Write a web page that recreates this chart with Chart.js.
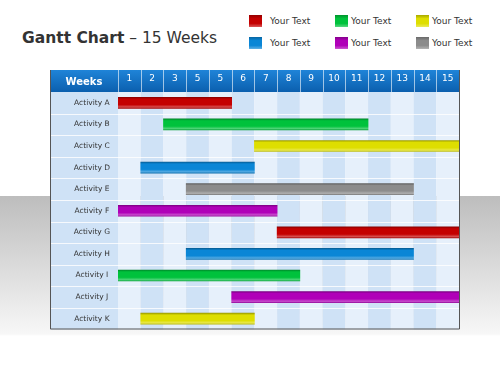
<!DOCTYPE html>
<html>
<head>
<meta charset="utf-8">
<script src="https://cdn.jsdelivr.net/npm/chart.js@4"></script>
<style>
  html, body { margin: 0; padding: 0; }
  body {
    width: 500px; height: 375px; position: relative; overflow: hidden;
    font-family: "DejaVu Sans", sans-serif; color: #333;
    background: linear-gradient(to bottom, #fff 0px, #fff 196px, #bdbdbd 196px, #f7f7f7 334px, #fff 336px);
  }
  #title { position: absolute; left: 22px; top: 29px; font-size: 15.5px; white-space: nowrap; color: #333; }
  #title b { font-weight: bold; }
  #legend { position: absolute; left: 249px; top: 15px; width: 250px; height: 40px; }
  .item { position: absolute; font-size: 9px; white-space: nowrap; color: #333; }
  .sw { position: absolute; left: 0; top: 0; width: 13px; height: 12px; }
  .item span { position: absolute; top: 0px; line-height: 12px; }
  #wrap { position: absolute; left: 50px; top: 70px; width: 410px; height: 264px; }
</style>
</head>
<body>
<div id="title"><b>Gantt Chart</b> – 15 Weeks</div>
<div id="legend"></div>
<div id="wrap"><canvas id="gantt"></canvas></div>
<script>
const weekLabels = ['1', '2', '3', '5', '5', '6', '7', '8', '9', '10', '11', '12', '13', '14', '15'];
const activities = ['Activity A', 'Activity B', 'Activity C', 'Activity D', 'Activity E', 'Activity F',
    'Activity G', 'Activity H', 'Activity I', 'Activity J', 'Activity K'];
const startWeek = [0, 2, 6, 1, 3, 0, 7, 3, 0, 5, 1];
const endWeek = [5, 11, 15, 6, 13, 7, 15, 13, 8, 15, 6];
const barColors = ['#c40000', '#00c23c', '#dede00', '#0a86d6', '#8c8c8c', '#b000b8',
    '#c40000', '#0a86d6', '#00c23c', '#b000b8', '#dede00'];
const legendLabels = ['Your Text', 'Your Text', 'Your Text', 'Your Text', 'Your Text', 'Your Text'];
const legendColors = ['#c40000', '#00c23c', '#dede00', '#0a86d6', '#b000b8', '#8c8c8c'];

function shade(hex, amt) {
    const n = parseInt(hex.slice(1), 16);
    let r = (n >> 16) & 255, g = (n >> 8) & 255, b = n & 255;
    const f = c => Math.max(0, Math.min(255, Math.round(amt < 0 ? c * (1 + amt) : c + (255 - c) * amt)));
    return `rgb(${f(r)},${f(g)},${f(b)})`;
}

// legend, 3 columns x 2 rows
const legendX = [0, 86, 167];
const legendGap = [21, 16, 16];
const legend = document.getElementById('legend');
legendLabels.forEach((txt, i) => {
    const item = document.createElement('div');
    item.className = 'item';
    item.style.left = legendX[i % 3] + 'px';
    item.style.top = (i < 3 ? 0 : 22) + 'px';
    const c = legendColors[i];
    item.innerHTML = `<div class="sw" style="background:linear-gradient(${shade(c, -0.25)}, ${c} 30%, ${c} 70%, ${shade(c, 0.35)})"></div><span style="left:${legendGap[i % 3]}px">${txt}</span>`;
    legend.appendChild(item);
});

const tablePlugin = {
    id: 'tableBg',
    beforeDraw(chart) {
        const { ctx, chartArea: a, scales } = chart;
        const xs = scales.x, ys = scales.y;
        const left = 0, right = chart.width - 1;
        ctx.save();
        // weeks column
        ctx.fillStyle = '#cfe2f6';
        ctx.fillRect(left, a.top, a.left - left, a.bottom - a.top);
        // week columns
        for (let i = 0; i < weekLabels.length; i++) {
            const x0 = xs.getPixelForValue(i), x1 = xs.getPixelForValue(i + 1);
            ctx.fillStyle = i % 2 === 0 ? '#e6f0fb' : '#cfe2f6';
            ctx.fillRect(x0, a.top, x1 - x0, a.bottom - a.top);
        }
        // row separators
        ctx.strokeStyle = 'rgba(255,255,255,0.8)';
        ctx.lineWidth = 1;
        for (let r = 1; r < activities.length; r++) {
            const y = Math.round((ys.getPixelForValue(r - 1) + ys.getPixelForValue(r)) / 2) + 0.5;
            ctx.beginPath(); ctx.moveTo(left, y); ctx.lineTo(a.right, y); ctx.stroke();
        }
        // header band
        const g = ctx.createLinearGradient(0, 0, 0, a.top);
        g.addColorStop(0, '#1f84d8');
        g.addColorStop(1, '#0b5fae');
        ctx.fillStyle = g;
        ctx.fillRect(left, 0, right - left + 1, a.top);
        ctx.strokeStyle = 'rgba(255,255,255,0.6)';
        for (let i = 0; i < weekLabels.length; i++) {
            const x = Math.round(xs.getPixelForValue(i)) + 0.5;
            ctx.beginPath(); ctx.moveTo(x, 0); ctx.lineTo(x, a.top); ctx.stroke();
        }
        ctx.fillStyle = '#fff';
        ctx.font = 'bold 10px "DejaVu Sans"';
        ctx.textAlign = 'center';
        ctx.textBaseline = 'middle';
        ctx.fillText('Weeks', a.left / 2, a.top / 2 + 1);
        ctx.restore();
    },
    afterDraw(chart) {
        const { ctx, chartArea: a } = chart;
        ctx.save();
        ctx.strokeStyle = '#555';
        ctx.lineWidth = 1;
        ctx.beginPath();
        ctx.moveTo(0.5, 0);
        ctx.lineTo(0.5, a.bottom - 0.5);
        ctx.lineTo(chart.width - 0.5, a.bottom - 0.5);
        ctx.lineTo(chart.width - 0.5, 0);
        ctx.stroke();
        ctx.restore();
    }
};

new Chart(document.getElementById('gantt'), {
    type: 'bar',
    data: {
        labels: activities,
        datasets: [{
            data: activities.map((_, i) => [startWeek[i], endWeek[i]]),
            backgroundColor: ctx => {
                const chart = ctx.chart;
                const c = barColors[ctx.dataIndex];
                if (!chart.chartArea || !chart.scales.y) return c;
                const y = chart.scales.y.getPixelForValue(ctx.dataIndex);
                const g = chart.ctx.createLinearGradient(0, y - 6, 0, y + 6);
                g.addColorStop(0, shade(c, -0.35));
                g.addColorStop(0.2, c);
                g.addColorStop(0.65, c);
                g.addColorStop(0.85, shade(c, 0.3));
                g.addColorStop(1, shade(c, -0.2));
                return g;
            },
            borderWidth: 0,
            borderSkipped: false,
            barThickness: 11
        }]
    },
    options: {
        indexAxis: 'y',
        responsive: true,
        maintainAspectRatio: false,
        animation: false,
        layout: { padding: { left: 0, right: 1, top: 0, bottom: 1 } },
        plugins: { legend: { display: false }, tooltip: { enabled: false } },
        scales: {
            x: {
                type: 'linear', min: 0, max: weekLabels.length,
                display: false
            },
            x2: {
                type: 'category', labels: weekLabels, position: 'top', offset: true,
                grid: { display: false }, border: { display: false },
                ticks: { color: '#fff', font: { family: 'DejaVu Sans', size: 9 }, padding: 0, maxRotation: 0, autoSkip: false },
                afterFit: s => { s.height = 22; }
            },
            y: {
                grid: { display: false }, border: { display: false },
                ticks: { color: '#333', font: { family: 'DejaVu Sans', size: 7.5 }, crossAlign: 'center', padding: 0 },
                afterFit: s => { s.width = 68; }
            }
        }
    },
    plugins: [tablePlugin]
});
</script>
</body>
</html>
